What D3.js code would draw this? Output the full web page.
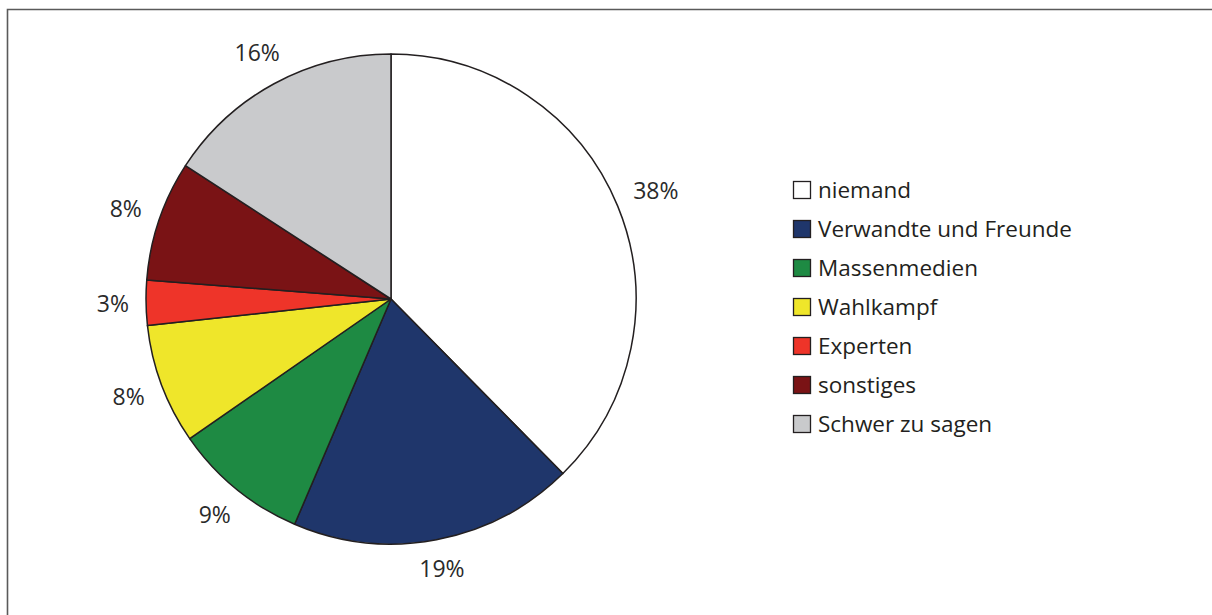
<!DOCTYPE html>
<html>
<head>
<meta charset="utf-8">
<script src="https://cdn.jsdelivr.net/npm/d3@7"></script>
<style>
  html, body { margin: 0; padding: 0; background: #fff; }
  svg { display: block; }
</style>
</head>
<body>
<svg id="chart" width="1212" height="615"></svg>
<script>
// Answer categories and their shares (percent)
const categories = ["niemand", "Verwandte und Freunde", "Massenmedien", "Wahlkampf", "Experten", "sonstiges", "Schwer zu sagen"];
const shares = [38, 19, 9, 8, 3, 8, 16];
const colors = ["#ffffff", "#1f366b", "#1e8a43", "#efe62a", "#ee3429", "#7a1315", "#c9cacc"];

const svg = d3.select("#chart");
const font = "'Open Sans', 'Noto Sans', sans-serif";

// outer frame (runs off the right and bottom edges)
svg.append("path")
  .attr("d", "M7.5,1300 L7.5,9.5 L1300,9.5")
  .attr("fill", "none")
  .attr("stroke", "#5a5a5a")
  .attr("stroke-width", 1.6);

const cx = 391, cy = 299, r = 245;
const data = categories.map((c, i) => ({ cat: c, value: shares[i], color: colors[i] }));

const pie = d3.pie().value(d => d.value).sort(null);
const arc = d3.arc().innerRadius(0).outerRadius(r);
const arcs = pie(data);

const g = svg.append("g").attr("transform", `translate(${cx},${cy})`);

g.selectAll("path.slice")
  .data(arcs)
  .join("path")
  .attr("class", "slice")
  .attr("d", arc)
  .attr("fill", d => d.data.color)
  .attr("stroke", "#231f20")
  .attr("stroke-width", 1.5)
  .attr("stroke-linejoin", "round");

// percentage labels outside the pie
const labelSize = 23;
const labels = g.selectAll("text.pct")
  .data(arcs)
  .join("text")
  .attr("class", "pct")
  .attr("font-family", font)
  .attr("font-size", labelSize)
  .attr("fill", "#2a2a2a")
  .attr("text-anchor", "middle")
  .attr("dy", "0.36em")
  .text(d => d.data.value + "%");

labels.each(function(d) {
  const w = this.getComputedTextLength();
  const h = labelSize * 0.75;
  const a = (d.startAngle + d.endAngle) / 2;
  const s = Math.sin(a), c = Math.cos(a);
  const R = r + 17 + Math.abs(s) * w / 2 + Math.abs(c) * h / 2;
  d3.select(this).attr("x", R * s).attr("y", -R * c);
});

// legend
const legend = svg.append("g").attr("transform", "translate(793,190)");
const step = 39;
const items = legend.selectAll("g.item")
  .data(data)
  .join("g")
  .attr("class", "item")
  .attr("transform", (d, i) => `translate(0,${i * step})`);

items.append("rect")
  .attr("x", 0.5).attr("y", -8.5)
  .attr("width", 17).attr("height", 17)
  .attr("fill", d => d.color)
  .attr("stroke", "#231f20")
  .attr("stroke-width", 1.3);

items.append("text")
  .attr("x", 25)
  .attr("y", 0)
  .attr("dy", "0.36em")
  .attr("font-family", font)
  .attr("font-size", 22.5)
  .attr("fill", "#231f20")
  .text(d => d.cat);
</script>
</body>
</html>
